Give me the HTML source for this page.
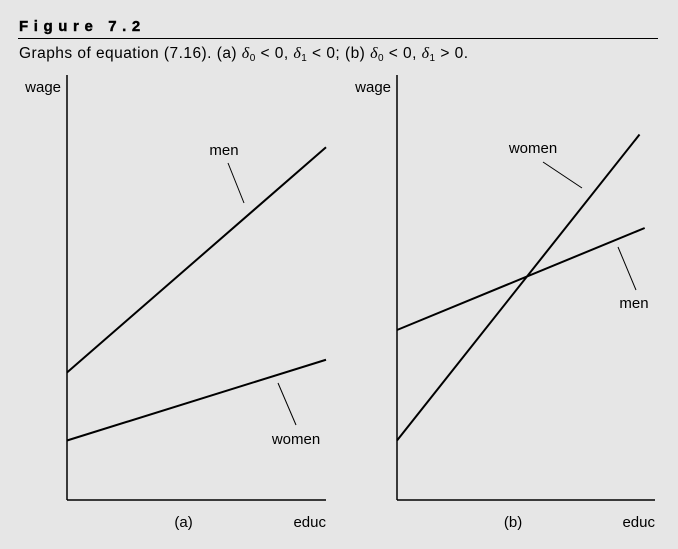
<!DOCTYPE html>
<html><head><meta charset="utf-8"><style>
body{margin:0;background:#e6e6e6;}
svg{display:block;font-family:"Liberation Sans","DejaVu Sans",sans-serif;}
</style></head><body>
<svg width="678" height="549" viewBox="0 0 678 549" xmlns="http://www.w3.org/2000/svg">
<rect width="678" height="549" fill="#e6e6e6"/>
<text x="19" y="31" font-size="15" font-weight="bold" letter-spacing="5.6" stroke="#000" stroke-width="0.4">Figure 7.2</text>
<line x1="18" y1="38.5" x2="658" y2="38.5" stroke="#000" stroke-width="1"/>
<text x="19" y="58" font-size="15.5" textLength="449" lengthAdjust="spacing">Graphs of equation (7.16).  (a) <tspan font-family="Liberation Serif,serif" font-style="italic" font-size="16">δ</tspan><tspan font-size="10" dy="3">0</tspan><tspan dy="-3"> &lt; 0, </tspan><tspan font-family="Liberation Serif,serif" font-style="italic" font-size="16">δ</tspan><tspan font-size="10" dy="3">1</tspan><tspan dy="-3"> &lt; 0;  (b) </tspan><tspan font-family="Liberation Serif,serif" font-style="italic" font-size="16">δ</tspan><tspan font-size="10" dy="3">0</tspan><tspan dy="-3"> &lt; 0, </tspan><tspan font-family="Liberation Serif,serif" font-style="italic" font-size="16">δ</tspan><tspan font-size="10" dy="3">1</tspan><tspan dy="-3"> &gt; 0.</tspan></text>
<g id="plots"></g>
</svg>
<script>
// data: wage at educ=0 and educ=end (y in 0..1 scale of axis height)
const panels = ['a','b'];
const menStart = [0.30, 0.40];
const menEnd = [0.83, 0.64];
const womenStart = [0.14, 0.14];
const womenEnd = [0.33, 0.86];
const lineEndX = [1.0, 0.96]; // fraction of axis width

const originX = [67, 397], originY = 500, axisW = [259, 258], axisH = 425;
function sx(p, v){ return originX[p] + v*axisW[p]; }
function sy(v){ return originY - v*axisH; }
const NS='http://www.w3.org/2000/svg';
const g=document.getElementById('plots');
function mk(tag, attrs){ const e=document.createElementNS(NS,tag); for(const k in attrs) e.setAttribute(k,attrs[k]); g.appendChild(e); return e; }
const callouts = [
  {men:[[224,150],[228,163,244,203]], women:[[296,439],[278,383,296,425]]},
  {men:[[634,303],[618,247,636,290]], women:[[533,148],[543,162,582,188]]}
];
panels.forEach((name,p)=>{
  let e;
  e=mk('line',{x1:sx(p,0),y1:sy(1),x2:sx(p,0),y2:sy(0),stroke:'#000','stroke-width':1.5});
  
  
  e=mk('line',{x1:sx(p,0),y1:sy(0),x2:sx(p,1),y2:sy(0),stroke:'#000','stroke-width':1.5});
  
  
  e=mk('text',{x:sx(p,0)-6,y:92,'font-size':15,'text-anchor':'end'}); e.textContent='wage';
  
  
  e=mk('text',{x:sx(p,1),y:527,'font-size':15,'text-anchor':'end'}); e.textContent='educ';
  
  
  e=mk('text',{x:sx(p,0.45),y:527,'font-size':15,'text-anchor':'middle'}); e.textContent='('+name+')';
  
  
  const wx = p===1 ? 0.94 : 1.0;
  e=mk('line',{x1:sx(p,0),y1:sy(womenStart[p]),x2:sx(p,wx),y2:sy(womenEnd[p]),stroke:'#000','stroke-width':2});
  
  
  e=mk('line',{x1:sx(p,0),y1:sy(menStart[p]),x2:sx(p,lineEndX[p]),y2:sy(menEnd[p]),stroke:'#000','stroke-width':2});
  
  
  ['men','women'].forEach(s=>{
    const c=callouts[p][s];
    e=mk('text',{x:c[0][0],y:c[0][1]+5,'font-size':15,'text-anchor':'middle'}); e.textContent=s;
    
    
    e=mk('line',{x1:c[1][0],y1:c[1][1],x2:c[1][2],y2:c[1][3],stroke:'#000','stroke-width':1});
    
    
  });
});
</script>
</body></html>
